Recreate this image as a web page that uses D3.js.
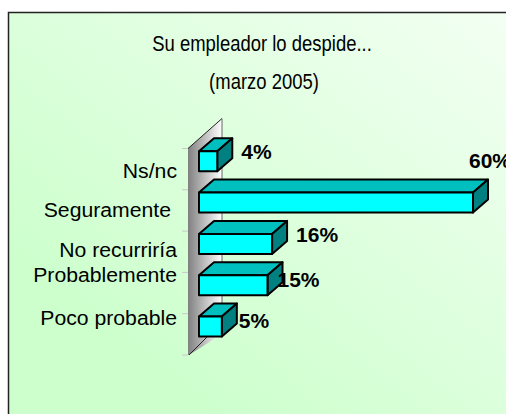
<!DOCTYPE html>
<html>
<head>
<meta charset="utf-8">
<script src="https://cdn.jsdelivr.net/npm/d3@7/dist/d3.min.js"></script>
<style>
  html, body { margin: 0; padding: 0; background: #fff; overflow: hidden; }
  text { font-family: "Liberation Sans", Arial, sans-serif; fill: #000; }
</style>
</head>
<body>
<svg id="chart" width="506" height="414"></svg>
<script>
// Data
const categories = ["Ns/nc", "Seguramente", "No recurriría", "Probablemente", "Poco probable"];
const values = [4, 60, 16, 15, 5];
const titleLines = ["Su empleador lo despide...", "(marzo 2005)"];
// the labels sit off their bands in the original
const labelShift = [1, -1, -2, -18, -17];
const valueDx = [24, -4, 24, 10, 17];
const valueDy = [8, -25, 8, 12, 11];

const svg = d3.select("#chart");
const defs = svg.append("defs");

// Panel background
const bg = defs.append("linearGradient")
    .attr("id", "panel")
    .attr("x1", "0").attr("y1", "1").attr("x2", "1").attr("y2", "0");
bg.append("stop").attr("offset", "0").attr("stop-color", "#ccffcc");
bg.append("stop").attr("offset", "0.2").attr("stop-color", "#ccffcc");
bg.append("stop").attr("offset", "1").attr("stop-color", "#f4fff4");

const wallGrad = defs.append("linearGradient")
    .attr("id", "wall")
    .attr("x1", "0").attr("y1", "0").attr("x2", "1").attr("y2", "0");
wallGrad.append("stop").attr("offset", "0").attr("stop-color", "#808080");
wallGrad.append("stop").attr("offset", "1").attr("stop-color", "#ffffff");

svg.append("rect")
    .attr("x", 8.5).attr("y", 12.5)
    .attr("width", 520).attr("height", 420)
    .attr("fill", "url(#panel)")
    .attr("stroke", "#222")
    .attr("stroke-width", 1.5);

// Title
svg.append("g").selectAll("text")
  .data(titleLines)
  .join("text")
    .attr("text-anchor", "middle")
    .attr("transform", (d, i) => `translate(${i ? 264 : 262},${i ? 89 : 51}) scale(0.84,1)`)
    .attr("font-size", 22)
    .text(d => d);

// Scales
const x = d3.scaleLinear().domain([0, 60]).range([199, 473]);
const y = d3.scaleBand().domain(categories).range([148.5, 355]);
const depthX = 15, depthY = 13, barH = 20, barOff = 1.8;

// Wall
const wallL = x(0) - 11, wallT = y.range()[0], wallB = y.range()[1];
const wall = d3.path();
wall.moveTo(wallL, wallT);
wall.lineTo(wallL + 34, wallT - 30);
wall.lineTo(wallL + 34, wallB - 21);
wall.lineTo(wallL + 1, wallB);
wall.lineTo(wallL, wallB);
wall.closePath();
svg.append("path").attr("d", wall.toString()).attr("fill", "url(#wall)");
svg.append("line")
    .attr("x1", wallL).attr("y1", wallT).attr("x2", wallL + 34).attr("y2", wallT - 30)
    .attr("stroke", "#222");
svg.append("line")
    .attr("x1", wallL + 34).attr("y1", wallT - 30).attr("x2", wallL + 34).attr("y2", wallB - 21)
    .attr("stroke", "#666");
svg.append("line")
    .attr("x1", wallL + 1).attr("y1", wallB).attr("x2", wallL + 22).attr("y2", wallB - 21)
    .attr("stroke", "#222");

// Tick marks
const tickY = [...categories.map(c => y(c)), wallB];
svg.append("g").selectAll("line")
  .data(tickY)
  .join("line")
    .attr("x1", wallL - 6).attr("x2", wallL)
    .attr("y1", d => d).attr("y2", d => d)
    .attr("stroke", "#c8c8c8");

// Bars
const bars = svg.append("g").selectAll("g")
  .data(values.map((v, i) => ({ name: categories[i], value: v, i })))
  .join("g")
    .attr("stroke", "#000")
    .attr("stroke-width", 2)
    .attr("stroke-linejoin", "round");

const pts = a => a.map(p => p.join(",")).join(" ");
const frontY = d => y(d.name) + barOff + 1;

bars.append("polygon")
    .attr("fill", "#00bfbf")
    .attr("points", d => {
      const r = x(d.value), t = frontY(d);
      return pts([[x(0), t], [x(0) + depthX, t - depthY], [r + depthX, t - depthY], [r, t]]);
    });
bars.append("polygon")
    .attr("fill", "#008080")
    .attr("points", d => {
      const r = x(d.value), t = frontY(d);
      return pts([[r, t], [r + depthX, t - depthY], [r + depthX, t - depthY + barH], [r, t + barH]]);
    });
bars.append("rect")
    .attr("fill", "#00ffff")
    .attr("x", x(0))
    .attr("y", d => frontY(d))
    .attr("width", d => x(d.value) - x(0))
    .attr("height", barH);

// Value labels
bars.append("text")
    .attr("stroke", "none")
    .attr("font-size", 21)
    .attr("font-weight", "bold")
    .attr("x", d => x(d.value) + valueDx[d.i])
    .attr("y", d => frontY(d) + valueDy[d.i])
    .text(d => d.value + "%");

// Category labels
svg.append("g").selectAll("text")
  .data(categories)
  .join("text")
    .attr("text-anchor", "end")
    .attr("font-size", 21)
    .attr("transform", (d, i) =>
      `translate(${d === "Seguramente" ? 171 : 177},${y(d) + 28 + labelShift[i]}) scale(1.01,1)`)
    .text(d => d);
</script>
</body>
</html>
